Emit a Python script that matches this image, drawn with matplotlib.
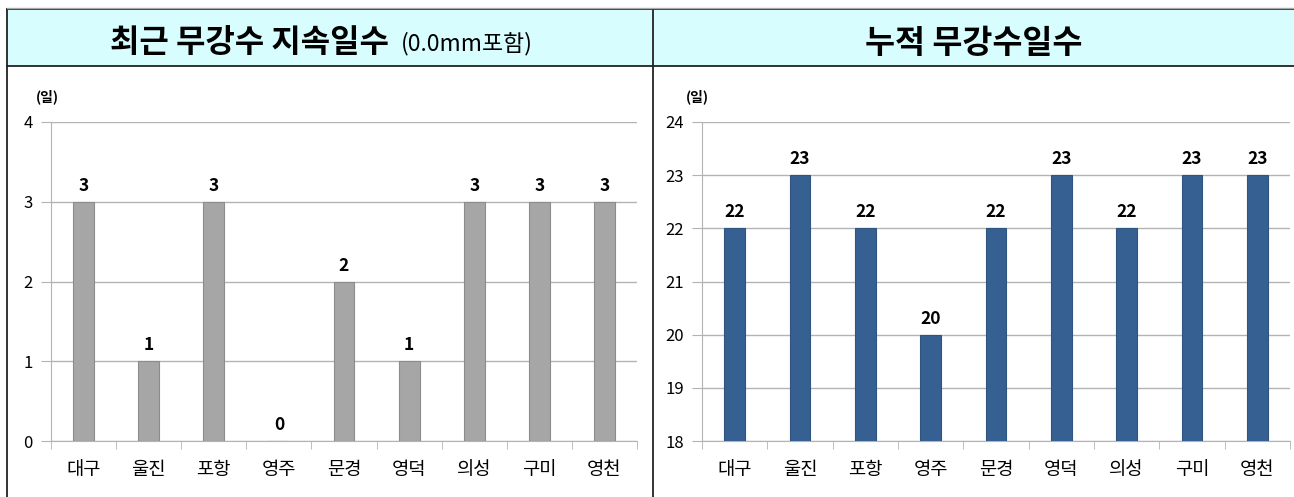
import numpy as np
import matplotlib
matplotlib.use('Agg')
import matplotlib.pyplot as plt
from matplotlib.patches import Rectangle
from matplotlib.lines import Line2D

# data
stations = ['대구', '울진', '포항', '영주', '문경', '영덕', '의성', '구미', '영천']
recent_days = [3, 1, 3, 0, 2, 1, 3, 3, 3]
total_days = [22, 23, 22, 20, 22, 23, 22, 23, 23]
left_title = '최근 무강수 지속일수'
left_sub = '(0.0mm포함)'
right_title = '누적 무강수일수'

plt.rcParams['font.family'] = ['Noto Sans CJK KR', 'DejaVu Sans']

W, H = 1294, 497
fig = plt.figure(figsize=(W / 100, H / 100), dpi=100)


def fx(px):
    return px / W


def fy(py):
    return 1 - py / H


# header band and table lines
fig.patches.append(Rectangle((fx(7), fy(66)), fx(W - 7), fy(9) - fy(66),
                             transform=fig.transFigure, facecolor='#d7fdff',
                             edgecolor='none', zorder=0))
for (x0, y0, x1, y1) in [(7, 9, W, 9), (7, 66, W, 66), (7, 9, 7, H), (653, 9, 653, H)]:
    fig.add_artist(Line2D([fx(x0), fx(x1)], [fy(y0), fy(y1)], transform=fig.transFigure,
                          color='#222222', lw=1.3))
fig.add_artist(Line2D([fx(7), fx(W)], [fy(7.5), fy(7.5)], transform=fig.transFigure,
                      color='#aaaaaa', lw=1))

fig.text(fx(249), fy(43), left_title, fontsize=23, fontweight='bold', ha='center', va='center')
fig.text(fx(401), fy(44), left_sub, fontsize=16.5, ha='left', va='center')
fig.text(fx(974), fy(43), right_title, fontsize=23.5, fontweight='bold', ha='center', va='center')

grid_c = '#b3b3b3'


def make_chart(ax, values, ymin, ymax, color, edge):
    x = np.arange(len(stations))
    ax.bar(x, values, width=0.32, color=color, edgecolor=edge, linewidth=0.8, zorder=3)
    ax.set_xlim(-0.5, len(stations) - 0.5)
    ax.set_ylim(ymin, ymax)
    ax.set_yticks(range(ymin, ymax + 1))
    ax.yaxis.grid(True, color=grid_c, lw=1, zorder=0)
    for s in ['top', 'right']:
        ax.spines[s].set_visible(False)
    for s in ['left', 'bottom']:
        ax.spines[s].set_color(grid_c)
    ax.set_xticks(x)
    ax.set_xticklabels(stations, fontsize=13.5)
    ax.set_xticks(np.arange(-0.5, len(stations)), minor=True)
    ax.tick_params(axis='x', which='major', length=0, pad=13)
    ax.tick_params(axis='x', which='minor', length=6, color=grid_c)
    ax.tick_params(axis='y', length=7, color=grid_c, labelsize=12, pad=6)
    for xi, v in zip(x, values):
        ax.annotate(str(v), (xi, max(v, ymin)), xytext=(0, 5), textcoords='offset points',
                    ha='center', va='bottom', fontsize=12.5, fontweight='bold')


ax1 = fig.add_axes([fx(51), fy(441), fx(637 - 51), fy(122) - fy(441)])
make_chart(ax1, recent_days, 0, 4, '#a6a6a6', '#8c8c8c')
fig.text(fx(47), fy(97), '(일)', fontsize=10, fontweight='bold', ha='center', va='center')

ax2 = fig.add_axes([fx(702), fy(441), fx(1290 - 702), fy(122) - fy(441)])
make_chart(ax2, total_days, 18, 24, '#376092', '#2f5480')
fig.text(fx(697), fy(97), '(일)', fontsize=10, fontweight='bold', ha='center', va='center')

fig.savefig('out.png', dpi=100)
